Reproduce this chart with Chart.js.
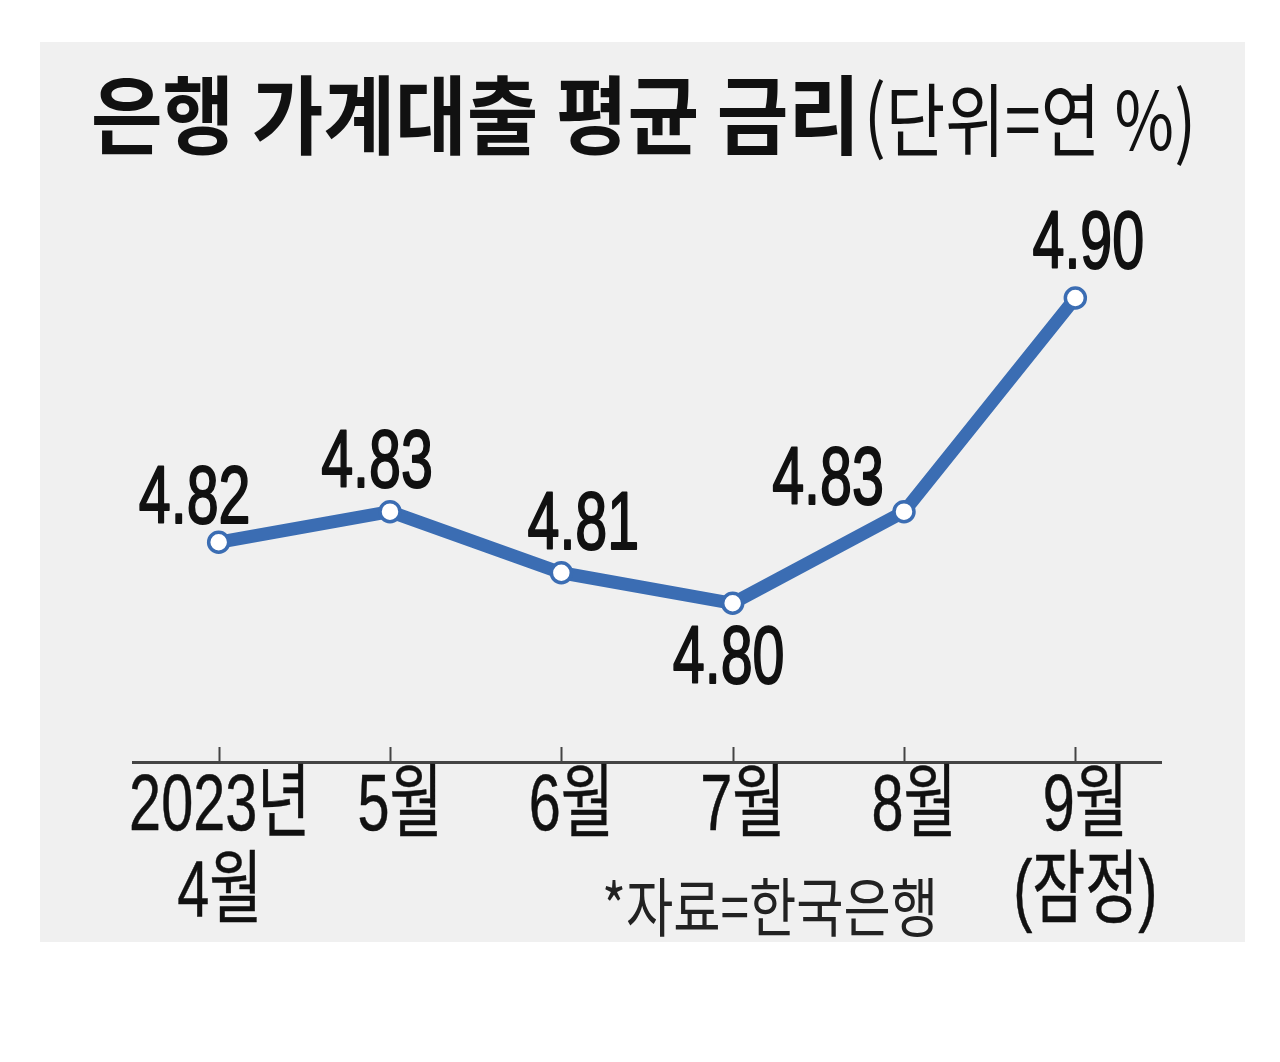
<!DOCTYPE html>
<html lang="ko">
<head>
<meta charset="utf-8">
<script src="https://cdn.jsdelivr.net/npm/chart.js@4.4.0/dist/chart.umd.min.js"></script>
<style>
  html, body { margin: 0; padding: 0; background: #fff; }
  canvas { display: block; }
</style>
</head>
<body>
<canvas id="chart" width="1280" height="1062"></canvas>
<script>
const months = [['2023년', '4월'], ['5월'], ['6월'], ['7월'], ['8월'], ['9월', '(잠정)']];
const rates = [4.82, 4.83, 4.81, 4.80, 4.83, 4.90];
const valueLabels = ['4.82', '4.83', '4.81', '4.80', '4.83', '4.90'];
const titleText = '은행 가계대출 평균 금리';
const unitText = '(단위=연 %)';
const sourceText = '*자료=한국은행';

// label nudges (px) relative to each point, as placed in the print graphic
const labelShift = [[-24, -42], [-13, -47], [22, -46], [-4, 57], [-76, -30], [13, -53]];

const BLUE = '#3b6db3';
const INK = '#111';
const NUM_FONT = "'Liberation Sans', 'Noto Sans CJK KR', sans-serif";
const KR_FONT = "'Noto Sans CJK KR', sans-serif";

// the original typeface is a narrow gothic, so text is squeezed sideways
function squeeze(ctx, text, x, y, sx, align, thick) {
  ctx.save();
  ctx.translate(x, y);
  ctx.scale(sx, 1);
  ctx.textAlign = align || 'center';
  ctx.textBaseline = 'middle';
  ctx.fillText(text, 0, 0);
  if (thick) {
    ctx.strokeStyle = ctx.fillStyle;
    ctx.lineWidth = thick;
    ctx.lineJoin = 'round';
    ctx.strokeText(text, 0, 0);
  }
  ctx.restore();
}

function fitText(ctx, text, left, y, width, thick) {
  const w = ctx.measureText(text).width;
  squeeze(ctx, text, left, y, width / w, 'left', thick);
}

const decor = {
  id: 'decor',
  beforeDraw(chart) {
    const ctx = chart.ctx;
    ctx.save();
    ctx.fillStyle = '#f0f0f0';
    ctx.fillRect(40, 42, 1205, 900);
    ctx.restore();
  },
  afterDraw(chart) {
    const ctx = chart.ctx;
    const x = chart.scales.x;
    const axisY = chart.chartArea.bottom;
    ctx.save();

    // small ticks standing up from the axis line
    ctx.strokeStyle = '#444';
    ctx.lineWidth = 2;
    months.forEach((m, i) => {
      const px = Math.round(x.getPixelForValue(i)) + 0.5;
      ctx.beginPath();
      ctx.moveTo(px, axisY - 15);
      ctx.lineTo(px, axisY);
      ctx.stroke();
    });

    // month labels
    ctx.fillStyle = INK;
    ctx.font = '80px ' + NUM_FONT;
    months.forEach((lines, i) => {
      const px = x.getPixelForValue(i) + (i === 0 ? 1 : 10);
      lines.forEach((line, j) => {
        squeeze(ctx, line, px, 808 + j * 86, 0.72, 'center', 0.5);
      });
    });

    // value labels
    const meta = chart.getDatasetMeta(0);
    ctx.font = '82px ' + NUM_FONT;
    meta.data.forEach((pt, i) => {
      squeeze(ctx, valueLabels[i], pt.x + labelShift[i][0], pt.y + labelShift[i][1], 0.7, 'center', 2);
    });

    // title and unit
    ctx.font = '700 86px ' + KR_FONT;
    fitText(ctx, titleText, 91, 115, 769);
    ctx.font = '400 80px ' + KR_FONT;
    fitText(ctx, unitText, 864, 120, 332);

    // source note
    ctx.fillStyle = '#222';
    ctx.font = '400 64px ' + KR_FONT;
    fitText(ctx, sourceText, 602, 907, 336);

    ctx.restore();
  }
};

new Chart(document.getElementById('chart'), {
  type: 'line',
  data: {
    labels: months,
    datasets: [{
      data: rates,
      borderColor: BLUE,
      borderWidth: 13,
      borderCapStyle: 'round',
      borderJoinStyle: 'round',
      tension: 0,
      pointRadius: 10,
      pointBorderWidth: 3.5,
      pointBackgroundColor: '#fff',
      pointBorderColor: BLUE,
    }],
  },
  options: {
    responsive: false,
    animation: false,
    devicePixelRatio: 1,
    layout: { padding: { left: 133, right: 119, top: 150, bottom: 300 } },
    plugins: {
      legend: { display: false },
      tooltip: { enabled: false },
    },
    scales: {
      x: {
        offset: true,
        grid: { display: false, drawTicks: false },
        border: { display: true, color: '#444', width: 3 },
        ticks: { display: false },
      },
      y: {
        display: false,
        min: 4.748,
        max: 4.9485,
      },
    },
  },
  plugins: [decor],
});
</script>
</body>
</html>
